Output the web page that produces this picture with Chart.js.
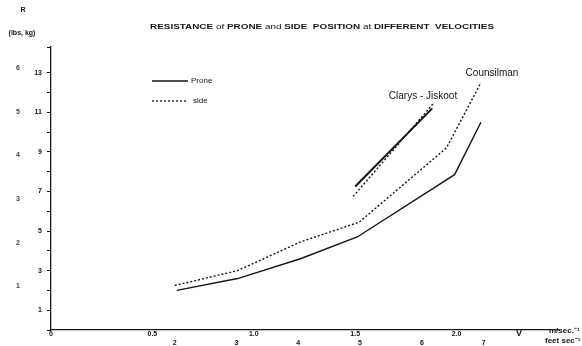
<!DOCTYPE html>
<html>
<head>
<meta charset="utf-8">
<script src="https://cdn.jsdelivr.net/npm/chart.js@4"></script>
<style>
  html, body { margin: 0; padding: 0; background: #fff; }
  #wrap { width: 582px; height: 346px; }
</style>
</head>
<body>
<div id="wrap"><canvas id="chart" width="582" height="346"></canvas></div>
<script>
// velocity in m/sec, resistance in lbs
const proneV = [0.62, 0.92, 1.23, 1.51, 1.99, 2.12];
const proneR = [2.0, 2.6, 3.6, 4.7, 7.85, 10.5];
const sideV = [0.61, 0.92, 1.23, 1.52, 1.95, 2.12];
const sideR = [2.25, 3.0, 4.45, 5.45, 9.2, 12.5];
const clarysV = [1.50, 1.88];
const clarysProneR = [7.25, 11.2];
const clarysSideV = [1.49, 1.89];
const clarysSideR = [6.75, 11.5];

const msLabels = [0, 0.5, 1.0, 1.5, 2.0];
const ftLabels = [2, 3, 4, 5, 6, 7];
const lbsLabels = [1, 3, 5, 7, 9, 11, 13];
const kgLabels = [1, 2, 3, 4, 5, 6];

const INK = '#151515';
const FONT = '"Liberation Sans", Arial, sans-serif';

function pts(xs, ys) {
  return xs.map((x, i) => ({ x: x, y: ys[i] }));
}

// Draws the title, legend and the notes around the plot
const notesPlugin = {
  id: 'notes',
  afterDraw(chart) {
    const ctx = chart.ctx;
    ctx.save();
    ctx.fillStyle = INK;
    ctx.strokeStyle = INK;
    ctx.textBaseline = 'middle';

    // title with mixed weights
    const parts = [
      ['RESISTANCE', true], [' of ', false], ['PRONE', true], [' and ', false],
      ['SIDE  POSITION', true], [' at ', false], ['DIFFERENT  VELOCITIES', true]
    ];
    const size = 7.5;
    let total = 0;
    parts.forEach(p => {
      ctx.font = (p[1] ? 'bold ' : '') + size + 'px ' + FONT;
      total += ctx.measureText(p[0]).width;
    });
    const sx = 344 / total;
    ctx.save();
    ctx.translate(150, 27);
    ctx.scale(sx, 1);
    let x = 0;
    ctx.textAlign = 'left';
    parts.forEach(p => {
      ctx.font = (p[1] ? 'bold ' : '') + size + 'px ' + FONT;
      ctx.fillText(p[0], x, 0);
      x += ctx.measureText(p[0]).width;
    });
    ctx.restore();

    // axis captions
    ctx.font = 'bold 7px ' + FONT;
    ctx.textAlign = 'center';
    ctx.fillText('R', 23, 10);
    ctx.fillText('(lbs, kg)', 22, 33);
    ctx.font = 'bold 9px ' + FONT;
    ctx.fillText('V', 519, 334);
    ctx.font = 'bold 8px ' + FONT;
    ctx.textAlign = 'left';
    ctx.fillText('m/sec.\u207B\u00B9', 549, 331);
    ctx.fillText('feet sec\u207B\u00B9', 545, 341);

    // legend
    ctx.lineWidth = 1.3;
    ctx.beginPath();
    ctx.moveTo(152, 81);
    ctx.lineTo(188, 81);
    ctx.stroke();
    ctx.setLineDash([2, 2]);
    ctx.beginPath();
    ctx.moveTo(152, 101);
    ctx.lineTo(187, 101);
    ctx.stroke();
    ctx.setLineDash([]);
    ctx.font = '8px ' + FONT;
    ctx.fillText('Prone', 191, 81);
    ctx.fillText('side', 193, 101);

    // curve names
    ctx.font = '10px ' + FONT;
    ctx.textAlign = 'center';
    ctx.fillText('Clarys - Jiskoot', 423, 96);
    ctx.fillText('Counsilman', 492, 73);
    ctx.restore();
  }
};

const ctx = document.getElementById('chart').getContext('2d');
new Chart(ctx, {
  type: 'line',
  data: {
    datasets: [
      { label: 'Prone', data: pts(proneV, proneR), borderColor: INK, borderWidth: 1.4 },
      { label: 'side', data: pts(sideV, sideR), borderColor: INK, borderWidth: 1.4, borderDash: [2, 2] },
      { label: 'Clarys-Jiskoot prone', data: pts(clarysV, clarysProneR), borderColor: INK, borderWidth: 2 },
      { label: 'Clarys-Jiskoot side', data: pts(clarysSideV, clarysSideR), borderColor: INK, borderWidth: 1.4, borderDash: [2, 2] }
    ]
  },
  options: {
    responsive: false,
    animation: false,
    layout: { padding: { top: 47, right: 24, bottom: 0, left: 0 } },
    elements: { point: { radius: 0 }, line: { tension: 0 } },
    plugins: { legend: { display: false }, tooltip: { enabled: false }, title: { display: false } },
    scales: {
      x: {
        type: 'linear', position: 'bottom', min: 0, max: 2.5, weight: 0,
        grid: { display: false, drawTicks: false },
        border: { display: true, color: INK, width: 1.3 },
        afterBuildTicks: s => { s.ticks = msLabels.map(v => ({ value: v })); },
        afterFit: s => { s.height = 9; },
        ticks: {
          padding: 0, color: INK, font: { family: FONT, size: 7, weight: 'bold' },
          maxRotation: 0, autoSkip: false,
          callback: v => (v === 0 ? '0' : v.toFixed(1))
        }
      },
      ft: {
        type: 'linear', position: 'bottom', min: 0, max: 2.5 / 0.3048, weight: 1,
        grid: { display: false, drawTicks: false },
        border: { display: false },
        afterBuildTicks: s => { s.ticks = ftLabels.map(v => ({ value: v })); },
        afterFit: s => { s.height = 7; },
        ticks: {
          padding: 0, color: INK, font: { family: FONT, size: 7, weight: 'bold' },
          maxRotation: 0, autoSkip: false
        }
      },
      y: {
        type: 'linear', position: 'left', min: 0, max: 14.3, weight: 0,
        grid: { drawOnChartArea: false, tickLength: 4, color: INK },
        border: { display: true, color: INK, width: 1.3 },
        afterFit: s => { s.width = 24; },
        ticks: {
          stepSize: 1, padding: 5, color: INK,
          font: { family: FONT, size: 7, weight: 'bold' },
          callback: v => (lbsLabels.includes(v) ? String(v) : '')
        }
      },
      kg: {
        type: 'linear', position: 'left', min: 0, max: 14.3 / 2.2046, weight: 1,
        grid: { display: false, drawTicks: false },
        border: { display: false },
        afterBuildTicks: s => { s.ticks = kgLabels.map(v => ({ value: v })); },
        afterFit: s => { s.width = 27; },
        ticks: {
          padding: 7, color: '#444',
          font: { family: FONT, size: 7, weight: 'bold' }
        }
      }
    }
  },
  plugins: [notesPlugin]
});
</script>
</body>
</html>
